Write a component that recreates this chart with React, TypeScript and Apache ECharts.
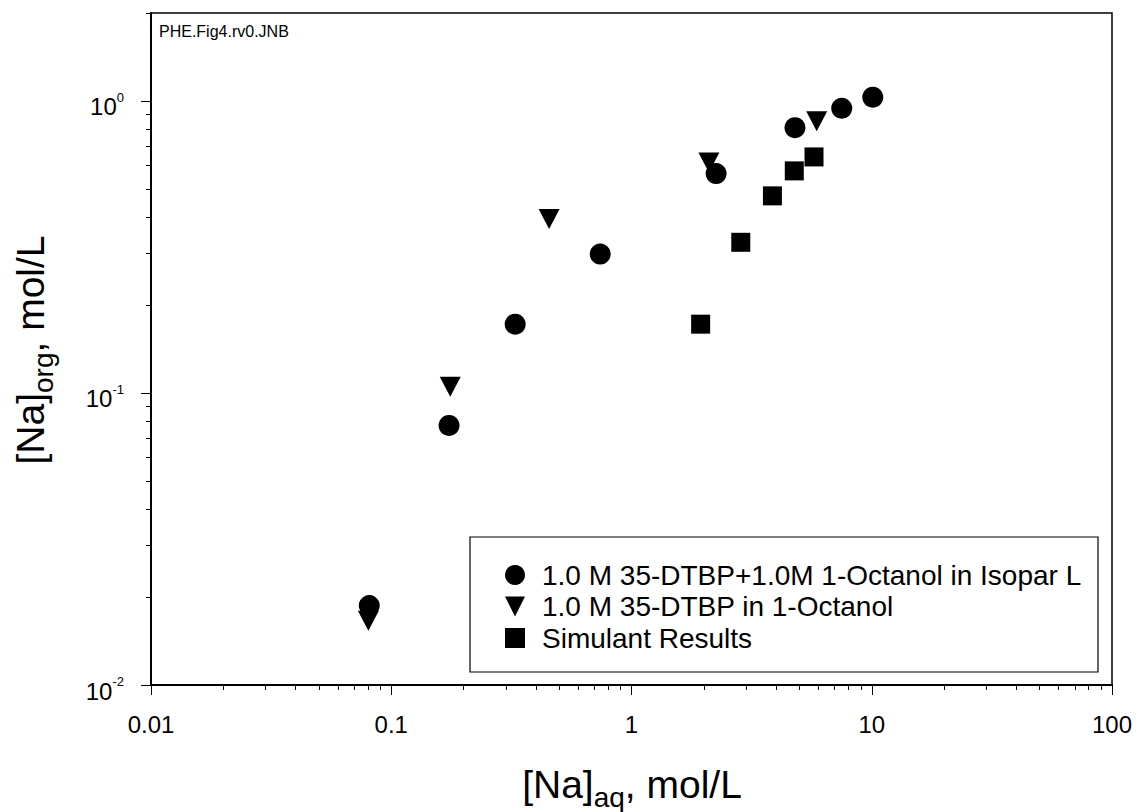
import React, { useEffect, useRef } from 'react';
import * as echarts from 'echarts';

// ---- data ----
const seriesNames = [
  '1.0 M 35-DTBP+1.0M 1-Octanol in Isopar L',
  '1.0 M 35-DTBP in 1-Octanol',
  'Simulant Results',
];
const circleX = [0.081, 0.174, 0.328, 0.741, 2.25, 4.79, 7.5, 10.1];
const circleY = [0.0187, 0.0774, 0.172, 0.299, 0.564, 0.81, 0.944, 1.03];
const triangleX = [0.0803, 0.176, 0.454, 2.1, 5.9];
const triangleY = [0.0166, 0.105, 0.394, 0.615, 0.852];
const squareX = [1.94, 2.85, 3.86, 4.76, 5.75];
const squareY = [0.172, 0.328, 0.473, 0.576, 0.643];

const xMin = 0.01;
const xMax = 100;
const yMin = 0.01;
const yMax = 2;
const yMajorTickValues = [0.01, 0.1, 1];
const xMinorDecades = [0.01, 0.1, 1, 10];
const yMinorDecades = [0.01, 0.1];
const yMinorExtra = [2];
const minorMantissas = [2, 3, 4, 5, 6, 7, 8, 9];
const annotation = 'PHE.Fig4.rv0.JNB';

const FONT = '"Liberation Sans", Arial, Helvetica, sans-serif';
const BLACK = '#000';

const log10 = (v: number) => Math.log10(v);
const xMinorLog = xMinorDecades.flatMap((d) => minorMantissas.map((m) => log10(m * d)));
const yMinorLog = [...yMinorDecades.flatMap((d) => minorMantissas.map((m) => log10(m * d))), ...yMinorExtra.map(log10)];
const yMajorLog = yMajorTickValues.map(log10);

const zip = (xs: number[], ys: number[]) => xs.map((x, i) => [x, ys[i]]);

const triPath = 'path://M0,0L20,0L10,20Z';

const gridRect = { left: 151, top: 13, width: 961, height: 672 };

const titleRich = {
  m: { fontSize: 39, fontFamily: FONT, fill: BLACK, color: BLACK, lineHeight: 39, verticalAlign: 'top' },
  s: { fontSize: 28, fontFamily: FONT, fill: BLACK, color: BLACK, lineHeight: 47, verticalAlign: 'bottom' },
};

function buildOption(): any {
  const tickLine = { color: BLACK, width: 1 };
  return {
    animation: false,
    backgroundColor: '#fff',
    grid: [
      { ...gridRect, show: true, borderColor: BLACK, borderWidth: 1.5, backgroundColor: 'rgba(0,0,0,0)' },
      { ...gridRect },
      { ...gridRect },
    ],
    xAxis: [
      {
        type: 'log',
        logBase: 10,
        gridIndex: 0,
        min: xMin,
        max: xMax,
        axisLine: { show: true, onZero: false, lineStyle: { color: BLACK, width: 2 } },
        axisTick: { show: true, length: 10, lineStyle: tickLine },
        minorTick: { show: false },
        splitLine: { show: false },
        axisLabel: {
          margin: 27,
          fontSize: 24,
          fontFamily: FONT,
          color: BLACK,
          formatter: (v: number) => String(parseFloat(Number(v).toPrecision(6))),
        },
      },
      {
        type: 'value',
        gridIndex: 1,
        min: log10(xMin),
        max: log10(xMax),
        axisLine: { show: false, onZero: false },
        axisTick: { show: true, length: 5, customValues: xMinorLog, lineStyle: tickLine },
        axisLabel: { show: false },
        splitLine: { show: false },
      },
      { type: 'value', gridIndex: 2, min: log10(xMin), max: log10(xMax), show: false, axisLine: { onZero: false } },
    ],
    yAxis: [
      {
        type: 'log',
        logBase: 10,
        gridIndex: 0,
        min: yMin,
        max: yMax,
        axisLine: { show: true, onZero: false, lineStyle: { color: BLACK, width: 2 } },
        axisTick: { show: false },
        minorTick: { show: false },
        splitLine: { show: false },
        axisLabel: {
          margin: 27,
          showMaxLabel: false,
          padding: [8, 0, 0, 0],
          formatter: (v: number) => `{b|10}{s|${Math.round(Math.log10(v))}}`,
          rich: {
            b: { fontSize: 24, fontFamily: FONT, color: BLACK, lineHeight: 28, verticalAlign: 'bottom' },
            s: { fontSize: 13, fontFamily: FONT, color: BLACK, lineHeight: 13, verticalAlign: 'top' },
          },
        },
      },
      {
        type: 'value',
        gridIndex: 1,
        min: log10(yMin),
        max: log10(yMax),
        axisLine: { show: false, onZero: false },
        axisTick: { show: true, length: 10, customValues: yMajorLog, lineStyle: tickLine },
        axisLabel: { show: false },
        splitLine: { show: false },
      },
      {
        type: 'value',
        gridIndex: 2,
        min: log10(yMin),
        max: log10(yMax),
        axisLine: { show: false, onZero: false },
        axisTick: { show: true, length: 5, customValues: yMinorLog, lineStyle: tickLine },
        axisLabel: { show: false },
        splitLine: { show: false },
      },
    ],
    legend: {
      orient: 'vertical',
      left: 505,
      top: 561,
      padding: 0,
      itemWidth: 20,
      itemHeight: 20,
      itemGap: 3.5,
      selectedMode: false,
      textStyle: { fontSize: 28, fontFamily: FONT, color: BLACK, padding: [0, 0, 0, 12] },
      data: [
        { name: seriesNames[0], icon: 'circle' },
        { name: seriesNames[1], icon: triPath },
        { name: seriesNames[2], icon: 'rect' },
      ],
    },
    graphic: [
      {
        type: 'rect',
        z: 10,
        shape: { x: 470, y: 537, width: 628, height: 135 },
        style: { fill: 'none', stroke: BLACK, lineWidth: 1.2 },
      },
      {
        type: 'text',
        x: 159,
        y: 31,
        style: {
          text: annotation,
          fontSize: 16,
          fontFamily: FONT,
          fill: BLACK,
          align: 'left',
          verticalAlign: 'middle',
        },
      },
      {
        type: 'text',
        x: 632,
        y: 788,
        style: {
          text: '{m|[Na]}{s|aq}{m|, mol/L}',
          align: 'center',
          verticalAlign: 'middle',
          fill: BLACK,
          rich: titleRich,
        },
      },
      {
        type: 'text',
        x: 34,
        y: 350,
        rotation: Math.PI / 2,
        style: {
          text: '{m|[Na]}{s|org}{m|, mol/L}',
          align: 'center',
          verticalAlign: 'middle',
          fill: BLACK,
          rich: titleRich,
        },
      },
    ],
    series: [
      {
        name: seriesNames[0],
        type: 'scatter',
        xAxisIndex: 0,
        yAxisIndex: 0,
        symbol: 'circle',
        symbolSize: 21,
        itemStyle: { color: BLACK, opacity: 1 },
        silent: true,
        data: zip(circleX, circleY),
      },
      {
        name: seriesNames[1],
        type: 'scatter',
        xAxisIndex: 0,
        yAxisIndex: 0,
        symbol: triPath,
        symbolSize: [21, 20],
        itemStyle: { color: BLACK, opacity: 1 },
        silent: true,
        data: zip(triangleX, triangleY),
      },
      {
        name: seriesNames[2],
        type: 'scatter',
        xAxisIndex: 0,
        yAxisIndex: 0,
        symbol: 'rect',
        symbolSize: 19,
        itemStyle: { color: BLACK, opacity: 1 },
        silent: true,
        data: zip(squareX, squareY),
      },
    ],
  };
}

export default function App() {
  const ref = useRef<HTMLDivElement>(null);
  useEffect(() => {
    if (!ref.current) return;
    const chart = echarts.init(ref.current, null, { renderer: 'svg' });
    chart.setOption(buildOption());
    return () => chart.dispose();
  }, []);
  return (
    <div
      ref={ref}
      style={{ position: 'fixed', left: 0, top: 0, width: 1139, height: 812, background: '#fff' }}
    />
  );
}
